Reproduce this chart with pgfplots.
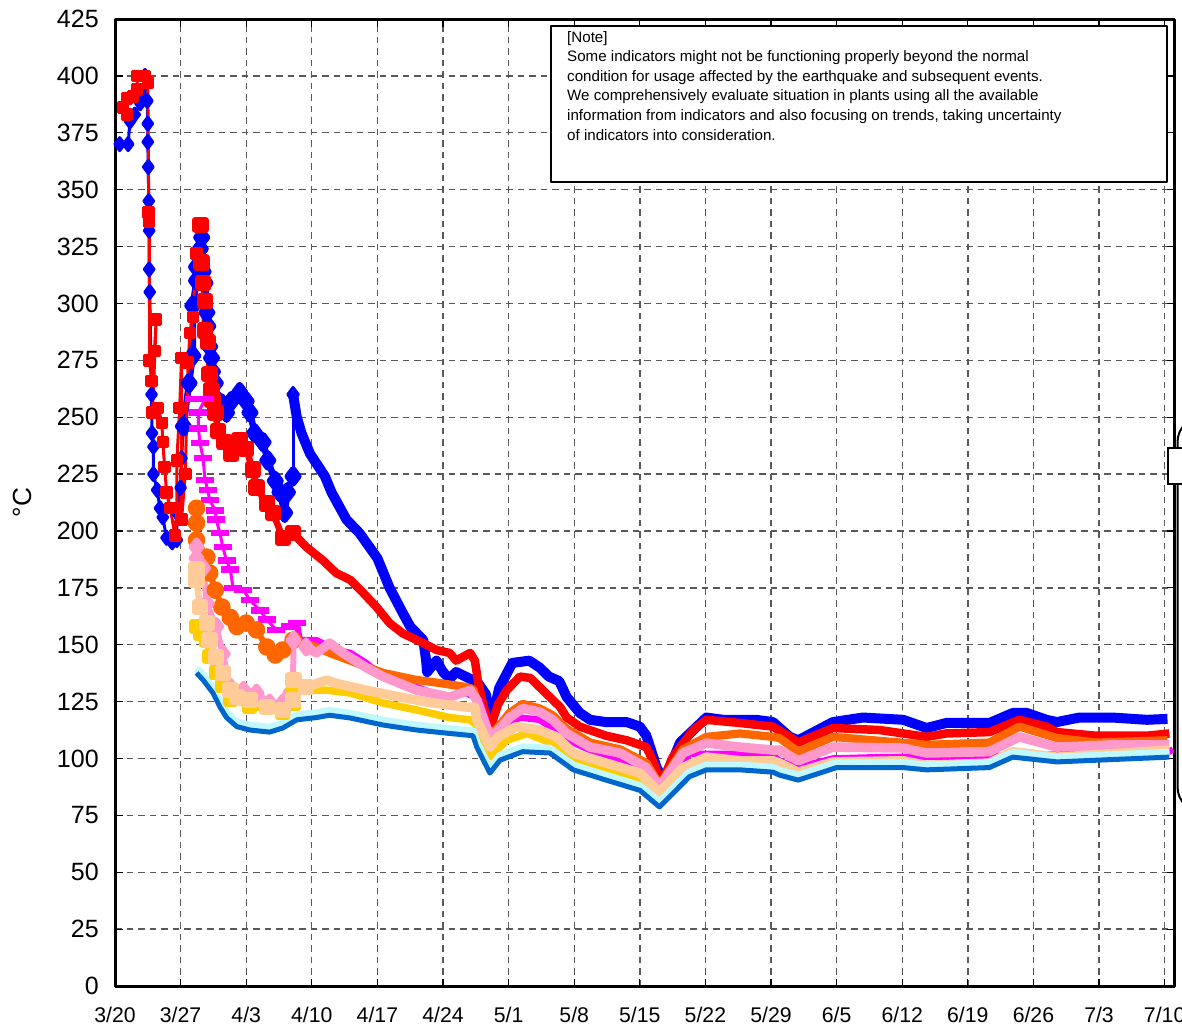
\documentclass[border=0pt]{standalone}
\usepackage{pgfplots}
\pgfplotsset{compat=1.18}
\usepackage{fontspec}
\setmainfont{Liberation Sans}
\definecolor{cBlue}{HTML}{0000FF}
\definecolor{cRed}{HTML}{FF0000}
\definecolor{cMag}{HTML}{FF00FF}
\definecolor{cOrange}{HTML}{FF6600}
\definecolor{cPink}{HTML}{FF99CC}
\definecolor{cGold}{HTML}{FFCC00}
\definecolor{cPeach}{HTML}{FFCC99}
\definecolor{cCyan}{HTML}{BFF8FF}
\definecolor{cMed}{HTML}{0066CC}
\begin{document}
\begin{tikzpicture}
\useasboundingbox (0pt,0pt) rectangle (472.8pt,410.8pt);
\begin{axis}[
  at={(46pt,16.4pt)}, anchor=south west,
  scale only axis, width=423.6pt, height=386.8pt,
  xmin=0, xmax=113, ymin=0, ymax=425,
  xtick={0,7,...,112},
  xticklabels={3/20,3/27,4/3,4/10,4/17,4/24,5/1,5/8,5/15,5/22,5/29,6/5,6/12,6/19,6/26,7/3,7/10},
  ytick={0,25,...,425},
  /pgf/number format/assume math mode=true,
  tick label style={font=\fontsize{10}{12}\selectfont},
  xticklabel style={font=\fontsize{8.5}{10}\selectfont, yshift=-5pt},
  yticklabel style={xshift=-3pt},
  ylabel={°C},
  ylabel style={at={(axis description cs:-0.0873,0.5)}, anchor=center, font=\fontsize{10.5}{12}\selectfont},
  axis line style={line width=1.2pt},
  tick align=inside, major tick length=3pt,
  tick style={black, line width=0.5pt},
  grid=major,
  major grid style={black!65, line width=0.55pt, dash pattern=on 2.6pt off 2pt},
  line join=round,
]
% ---------- blue (diamonds) ----------
\addplot[cBlue, line width=1.2pt, mark=diamond*, mark size=2.6pt] coordinates {
(0.5,370)(1.4,370)(1.6,380)(2.1,383)(2.7,388)(3.0,390)(3.2,400)(3.45,389)(3.5,379)(3.5,371)(3.55,360)(3.6,345)(3.65,332)(3.65,315)(3.7,305)(3.9,260)(3.95,243)(4.1,237)(4.1,225)(4.5,218)(4.8,210)(5.1,206)(5.5,197)(6.1,195)(6.6,196)(6.6,208)(7.0,219)(7.1,232)(7.3,246)
};
\addplot[cBlue, line width=2.6pt, mark=diamond*, mark size=2.8pt] coordinates {
(7.3,246)(7.9,265)(8.3,277)(8.3,299)(8.7,310)(8.7,316)(9.1,324)(9.25,329)(9.4,314)(9.6,309)(9.8,296)(9.9,290)(10.1,281)(10.3,276)(10.4,270)(10.7,265)(11.0,257)(11.4,256)(11.9,252)(12.4,257)(13.3,261)(14.0,257)(14.4,252)(14.9,243)(15.8,239)(16.3,231)(17.1,222)(17.6,217)(18.1,208)(18.4,217)(19.0,224)
};
\addplot[cBlue, line width=1.2pt, mark=diamond*, mark size=2.8pt] coordinates {
(19.0,224)(19.0,260)
};
\addplot[cBlue, line width=4pt] coordinates {
(19.0,260)(19.4,250)(19.9,243)(20.8,234)(22.4,224)(23.1,217)(24.7,205)(26.1,199)(28.0,188)(29.3,175)(30.7,164)(31.5,158)(32.2,155)(32.9,152)(33.2,143)(33.3,138)(34.3,143)(35.0,138)(35.7,135)(36.4,138)(37.9,135)(38.6,134)(39.6,128)(40.0,113)(41.0,131)(42.4,142)(44.2,143)(45.3,140)(46.3,136)(47.4,134)(48.2,127)(49.6,120)(50.7,117)(52.4,116)(54.6,116)(56.0,114)(56.7,110)(57.8,96)(58.3,92)(58.5,89)(60.3,107)(63.1,118)(64.9,117)(68.4,117)(70.2,116)(72.0,109.5)(72.9,108)(76.6,116)(79.8,118)(84.1,117)(86.6,113.4)(88.7,115.6)(93.3,115.6)(95.8,120)(97.3,120)(99.4,117)(100.5,116)(102.9,118)(106.4,118)(110.1,117)(112.3,117.4)
};
% ---------- red (squares) ----------
\addplot[cRed, line width=1.2pt, mark=square*, mark size=1.9pt] coordinates {
(0.85,386)(1.3,383)(1.3,390)(1.9,391)(2.35,394)(2.35,400)(3.2,400)(3.5,397)(3.6,340)(3.65,336)(3.7,275)(3.9,266)(4.2,279)(4.4,293)(4.0,252)(4.6,254)(5.0,247.5)(5.1,239)(5.3,228)(5.5,217)(5.9,210)(6.4,198)(6.6,210)(6.6,231)(6.9,254)(7.1,276)(7.1,205)(7.5,225)(7.8,274)(8.0,287)(8.3,294)(8.7,322)(9.1,334.5)
};
\addplot[cRed, line width=2.6pt, mark=square*, mark size=2pt] coordinates {
(9.1,334.5)(9.25,318)(9.4,309)(9.6,301)(9.6,288)(9.9,283)(10.1,269)(10.3,262)(10.4,257.5)(10.7,252)(11.0,244)(11.7,239)(12.4,234)(13.3,240)(14.0,236)(14.7,227)(15.1,219)(16.2,212)(16.85,208)(17.9,197)(19.0,199)
};
\addplot[cRed, line width=3.4pt] coordinates {
(19.0,199)(20.4,193)(22.2,187)(23.6,181.5)(25.1,178.5)(26.5,172.7)(27.9,166.6)(29.3,159.5)(30.7,155)(32.9,150.7)(34.3,147.7)(35.7,146.4)(36.4,143)(37.9,146.4)(38.4,143)(38.6,137.6)(38.7,134.5)(39.25,124.4)(40.0,113)(40.9,124)(41.8,130)(43.2,136)(44.3,135.4)(45.3,131.4)(46.4,127)(47.5,122.6)(48.2,118)(49.6,114)(52.4,110)(54.6,108)(56.7,105)(57.4,99)(58.3,89)(59.5,100.6)(61.7,112.5)(63.1,117)(66.7,115.6)(70.2,114)(72.0,109.5)(72.9,107)(76.6,113.4)(81.6,112.5)(86.6,109.5)(88.7,111)(93.3,111.6)(96.5,117)(99.4,114)(100.5,111.6)(104.7,110)(110.1,110)(112.5,111)
};
% ---------- magenta (dashes) ----------
\addplot[cMag, line width=1.2pt, mark=-, mark size=3.6pt, mark options={line width=2.6pt}] coordinates {
(8.4,258)(9.0,258)(9.6,258)(8.9,252)(8.9,245)(9.07,238.7)(9.4,232)(9.6,222.4)(9.9,218)(10.1,213.6)(10.7,209)(10.8,205)(11.2,199)(11.5,193)(11.9,187)(12.3,183)(12.6,175)(13.7,174)(14.4,169.6)(15.5,165)(16.2,161)(17.2,156.5)(18.7,158)(19.4,159.5)
};
\addplot[cMag, line width=2.6pt] coordinates {
(19.4,159.5)(19.7,152)(21.5,152)(23.6,147.7)(25.1,146.4)(26.8,142)(28.6,136)(30.4,133)(32.2,131.4)(33.9,128.8)(35.7,127)(37.5,128.8)(38.9,125.7)(40.0,112)(40.9,112)(43.2,118)(45.3,117)(48.9,107)(52.4,100.6)(56.0,96)(58.1,86)(61.3,102)(66.7,102)(70.2,101.4)(70.9,99)(72.7,96)(76.6,100)(81.6,100.6)(93.3,101)(112.5,103)(112.9,104)
};
% ---------- orange (circles) ----------
\addplot[cOrange, line width=2.4pt, mark=*, mark size=2.3pt] coordinates {
(8.7,210)(8.7,203.5)(8.7,196)(9.8,188.5)(10.1,181.5)(10.7,174)(11.4,166.6)(12.3,162)(13.0,158)(14.0,159.5)(15.1,156.5)(16.2,149)(17.1,145.5)(17.9,147.7)(19.0,152)
};
\addplot[cOrange, line width=3.3pt] coordinates {
(19.0,152)(21.5,149)(22.9,146.4)(25.1,143)(28.6,137.6)(32.2,134.5)(33.9,133.6)(37.5,131.4)(38.2,130.5)(38.6,126)(40.0,110)(40.9,114)(42.1,120)(43.5,124)(45.3,122)(46.7,119)(48.2,113)(50.7,107)(53.9,104)(56.7,98)(58.1,88.5)(60.6,104)(63.1,109.5)(66.7,111)(70.2,109.5)(70.9,109)(72.9,103)(76.6,109.5)(86.6,106)(93.3,107)(96.5,114)(100.5,109)(104.7,107)(112.3,108)
};
% ---------- pink (diamonds) ----------
\addplot[cPink, line width=2.4pt, mark=diamond*, mark size=2.6pt] coordinates {
(8.7,193)(8.7,188)(9.4,183.7)(9.8,168)(10.8,158)(11.5,146)(12.3,131.4)(13.7,130)(15.1,128.8)(16.5,124.4)(17.9,124.4)(18.7,128.8)(19.0,134.5)(19.05,152)(20.4,149)
};
\addplot[cPink, line width=3.8pt] coordinates {
(20.4,149)(21.5,146.4)(22.9,150.7)(24.3,146.4)(26.8,140)(28.6,136)(30.4,133)(32.2,130)(35.7,127)(37.9,130)(38.6,125.7)(40.0,109.5)(40.9,112.5)(42.1,118)(43.5,122)(45.3,120.5)(46.7,117)(48.2,111)(50.7,105)(53.9,102.4)(56.7,96)(58.1,87.5)(60.6,102.4)(63.1,106.8)(66.7,105)(70.2,103.7)(70.9,103.7)(72.9,99)(76.6,105)(84.1,104.6)(86.6,102.4)(93.3,103)(96.5,109.5)(100.5,105)(106.5,106)(112.5,106)
};
% ---------- gold (squares) ----------
\addplot[cGold, line width=2.4pt, mark=square*, mark size=1.8pt] coordinates {
(8.7,158)(9.07,155)(9.8,152)(10.1,145)(10.8,138)(11.5,132)(12.3,126)(14.4,123)(17.9,120)(19.0,124)(19.05,130)
};
\addplot[cGold, line width=3pt] coordinates {
(19.05,130)(22.6,130)(25.1,128.8)(28.6,124.4)(32.2,121.3)(35.7,118)(37.9,117)(38.5,115)(40.0,100.6)(41.8,108)(44.0,111)(46.4,107)(48.9,99.3)(52.4,95)(56.0,90.5)(58.1,83)(61.3,96)(63.1,99)(66.7,99)(70.2,98)
};
% ---------- peach (squares) ----------
\addplot[cPeach, line width=2.6pt, mark=square*, mark size=2pt] coordinates {
(8.7,183)(8.7,178.5)(9.07,166.6)(9.8,159.5)(10.1,152)(10.8,144.6)(11.5,137.6)(12.3,130)(13.0,127)(14.4,125.7)(16.2,122.6)(17.9,121.3)(19.0,125.7)(19.05,134.5)(20.4,131.4)
};
\addplot[cPeach, line width=3.8pt] coordinates {
(20.4,131.4)(22.6,134.5)(23.6,133)(26.8,130)(30.4,127)(33.9,124.4)(37.5,122.6)(38.4,122.6)(38.6,117)(40.0,105)(40.9,109.5)(42.8,114)(45.3,112.5)(47.1,109.5)(48.9,102.4)(52.4,98)(56.0,93.6)(58.1,85)(60.6,96)(63.1,100.6)(66.7,99)(70.2,99)(70.9,98)(72.9,94)(76.6,98.5)(84.1,99)(86.6,97)(93.3,98)(95.8,103)(100.5,100.6)(112.5,103.7)
};
% ---------- light cyan ----------
\addplot[cCyan, line width=3pt] coordinates {
(8.7,139.5)(9.4,136.5)(10.45,130.8)(11.2,124.6)(11.9,120)(13.0,116)(14.4,114.5)(16.5,113.6)(17.9,115.4)(19.4,119)(21.5,120)(22.9,121)(25.1,119.8)(28.6,116.7)(32.2,114.5)(35.7,113)(38.2,112)(38.6,107)(40.0,95.6)(41.1,101.3)(43.5,105)(46.4,104.4)(48.9,97)(52.4,92.5)(56.0,88)(58.1,80.7)(61.3,94)(63.1,97)(66.7,97)(70.2,96)(70.9,94.7)(72.9,92.5)(77.0,98)(84.1,98)(86.6,97)(93.3,98)(95.8,102.6)(100.5,100.5)(112.5,102.6)
};
% ---------- medium blue ----------
\addplot[cMed, line width=2pt] coordinates {
(8.7,137.6)(9.4,134.5)(10.45,128.8)(11.2,122.6)(11.9,118)(13.0,114)(14.4,112.5)(16.5,111.6)(17.9,113.4)(19.4,117)(21.5,118)(22.9,119)(25.1,117.8)(28.6,114.7)(32.2,112.5)(35.7,111)(38.2,110)(38.6,105)(40.0,93.6)(41.1,99.3)(43.5,103)(46.4,102.4)(48.9,95)(52.4,90.5)(56.0,86)(58.1,78.7)(61.3,92)(63.1,95)(66.7,95)(70.2,94)(70.9,92.7)(72.9,90.5)(77.0,96)(84.1,96)(86.6,95)(93.3,96)(95.8,100.6)(100.5,98.5)(112.5,100.6)
};
% ---------- note box ----------
\draw[line width=0.8pt, fill=white] (axis cs:46.5,353.4) rectangle (axis cs:112.3,421.9);
\node[anchor=north west, align=left, inner sep=0pt, font=\fontsize{6.05}{7.85}\selectfont]
  at (axis cs:48.2,419.9) {[Note]\\
Some indicators might not be functioning properly beyond the normal\\
condition for usage affected by the earthquake and subsequent events.\\
We comprehensively evaluate situation in plants using all the available\\
information from indicators and also focusing on trends, taking uncertainty\\
of indicators into consideration.};
\end{axis}
% partial shapes cut at the right edge
\draw[line width=0.8pt, rounded corners=10pt] (490pt,244pt) -- (471pt,244pt) -- (471pt,86pt) -- (490pt,86pt);
\draw[line width=0.8pt, fill=white] (467.2pt,217.2pt) rectangle (480pt,231.6pt);
\end{tikzpicture}
\end{document}
